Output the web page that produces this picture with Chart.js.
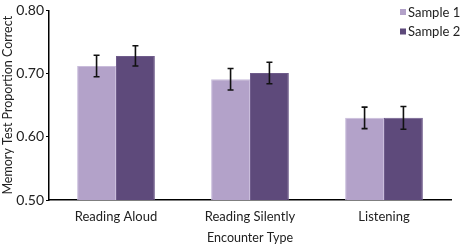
<!DOCTYPE html>
<html>
<head>
<meta charset="utf-8">
<script src="https://cdn.jsdelivr.net/npm/chart.js@4"></script>
<style>
  html, body { margin: 0; padding: 0; background: #fff; }
  #wrap { width: 460px; height: 246px; position: relative; }
</style>
</head>
<body>
<div id="wrap"><canvas id="memChart"></canvas></div>
<script>
const categories = ['Reading Aloud', 'Reading Silently', 'Listening'];
const sample1 = [0.712, 0.691, 0.630];
const sample2 = [0.728, 0.701, 0.630];
const sample1Err = [0.017, 0.017, 0.017];
const sample2Err = [0.016, 0.017, 0.018];
const yTicks = [0.50, 0.60, 0.70, 0.80];

const font = "Lato, 'Open Sans', sans-serif";

// error bars drawn from the y scale
const errorBars = {
  id: 'errorBars',
  afterDatasetsDraw(chart) {
    const ctx = chart.ctx;
    const y = chart.scales.y;
    ctx.save();
    ctx.strokeStyle = '#111';
    ctx.lineWidth = 1.6;
    chart.data.datasets.forEach((ds, i) => {
      const meta = chart.getDatasetMeta(i);
      meta.data.forEach((bar, j) => {
        const v = ds.data[j], e = ds.errors[j];
        const top = y.getPixelForValue(v + e);
        const bot = y.getPixelForValue(v - e);
        ctx.beginPath();
        ctx.moveTo(bar.x, top); ctx.lineTo(bar.x, bot);
        ctx.moveTo(bar.x - 3, top); ctx.lineTo(bar.x + 3, top);
        ctx.moveTo(bar.x - 3, bot); ctx.lineTo(bar.x + 3, bot);
        ctx.stroke();
      });
    });
    ctx.restore();
  }
};

// small legend in the top right corner
const cornerLegend = {
  id: 'cornerLegend',
  afterDraw(chart) {
    const ctx = chart.ctx;
    ctx.save();
    ctx.font = '13px ' + font;
    ctx.textBaseline = 'middle';
    chart.data.datasets.forEach((ds, i) => {
      const yy = 12 + i * 19.5;
      ctx.fillStyle = ds.backgroundColor;
      ctx.fillRect(400, yy - 3, 6, 6);
      ctx.fillStyle = '#222';
      ctx.fillText(ds.label, 408, yy + 0.5);
    });
    ctx.restore();
  }
};

new Chart(document.getElementById('memChart'), {
  type: 'bar',
  data: {
    labels: categories,
    datasets: [
      {
        label: 'Sample 1',
        data: sample1,
        errors: sample1Err,
        backgroundColor: '#b3a2c9',
        borderColor: '#c9bcdb',
        borderWidth: 1
      },
      {
        label: 'Sample 2',
        data: sample2,
        errors: sample2Err,
        backgroundColor: '#5e4a7b',
        borderColor: '#6f5c8b',
        borderWidth: 1
      }
    ]
  },
  options: {
    responsive: true,
    maintainAspectRatio: false,
    animation: false,
    layout: { padding: { top: 8, right: 9, left: 0, bottom: 0 } },
    datasets: {
      bar: { categoryPercentage: 0.58, barPercentage: 1 }
    },
    plugins: {
      legend: { display: false },
      tooltip: { enabled: false }
    },
    scales: {
      x: {
        grid: { display: false },
        border: { display: true, color: '#000', width: 1.5 },
        ticks: { color: '#222', font: { family: font, size: 13 }, padding: 1 },
        title: {
          display: true,
          text: 'Encounter Type',
          color: '#222',
          font: { family: font, size: 12.5 },
          padding: { top: 4, bottom: 1 }
        },
        afterFit(scale) { scale.height = 46; }
      },
      y: {
        min: 0.5,
        max: 0.8,
        afterBuildTicks(scale) {
          scale.ticks = yTicks.map(v => ({ value: v }));
        },
        grid: { drawOnChartArea: false, drawTicks: true, tickLength: 3, color: '#000' },
        border: { display: true, color: '#000', width: 1.5 },
        ticks: {
          color: '#222',
          font: { family: font, size: 14 },
          padding: 2,
          callback: v => v.toFixed(2)
        },
        title: {
          display: true,
          text: 'Memory Test Proportion Correct',
          color: '#222',
          font: { family: font, size: 12.5 },
          padding: { top: 0, bottom: 2 }
        },
        afterFit(scale) { scale.width = 49; }
      }
    }
  },
  plugins: [errorBars, cornerLegend]
});
</script>
</body>
</html>
